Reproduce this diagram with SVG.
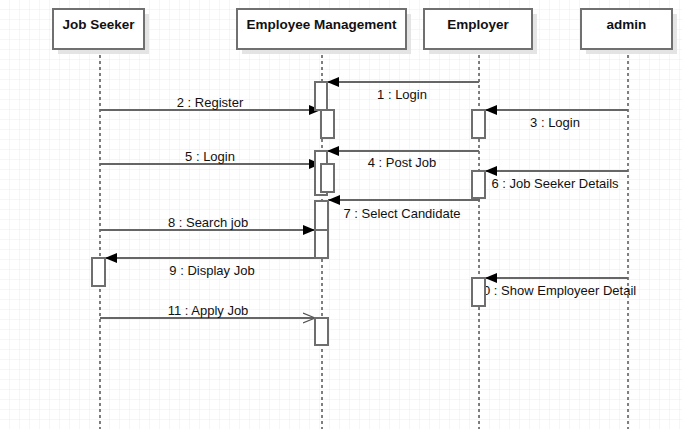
<svg xmlns="http://www.w3.org/2000/svg" width="682" height="429" viewBox="0 0 682 429">
<defs>
<pattern id="grid" width="10" height="10" patternUnits="userSpaceOnUse">
<path d="M10 0V10M0 10H10" fill="none" stroke="#ececec" stroke-width="1"/>
</pattern>
<marker id="fa" markerWidth="12" markerHeight="10" refX="12" refY="5" orient="auto" markerUnits="userSpaceOnUse">
<path d="M0 0L12 5L0 10Z" fill="#000"/>
</marker>
<marker id="oa" markerWidth="13" markerHeight="12" refX="12" refY="6" orient="auto" markerUnits="userSpaceOnUse">
<path d="M0 1L12 6L0 11" fill="none" stroke="#555" stroke-width="1.2"/>
</marker>
<style>
.hd{fill:#fff;stroke:#707070;stroke-width:2}
.sh{fill:#e4e4e4}
.ht{font-family:"Liberation Sans",Arial,sans-serif;font-size:13.5px;font-weight:bold;fill:#111;text-anchor:middle}
.ll{stroke:#000;stroke-width:1;stroke-dasharray:3 3}
.ac{fill:#fff;stroke:#6e6e6e;stroke-width:2}
.m{stroke:#666;stroke-width:2;fill:none}
.lb{font-family:"Liberation Sans",Arial,sans-serif;font-size:13px;fill:#111;text-anchor:middle}
</style>
</defs>
<rect width="682" height="429" fill="#fff"/>
<rect width="682" height="429" fill="url(#grid)"/>

<g id="lifelines">
<line class="ll" x1="100" y1="49" x2="100" y2="429"/>
<line class="ll" x1="322" y1="49" x2="322" y2="429"/>
<line class="ll" x1="479" y1="49" x2="479" y2="429"/>
<line class="ll" x1="628" y1="49" x2="628" y2="429"/>
</g>

<g id="job-seeker">
<rect class="sh" x="58" y="14" width="91" height="40"/>
<rect class="hd" x="53" y="9" width="91" height="40"/>
<text class="ht" x="98.5" y="29">Job Seeker</text>
</g>
<g id="employee-management">
<rect class="sh" x="242" y="14" width="169" height="40"/>
<rect class="hd" x="237" y="9" width="169" height="40"/>
<text class="ht" x="321.5" y="29">Employee Management</text>
</g>
<g id="employer">
<rect class="sh" x="429" y="14" width="108" height="40"/>
<rect class="hd" x="424" y="9" width="108" height="40"/>
<text class="ht" x="478" y="29">Employer</text>
</g>
<g id="admin">
<rect class="sh" x="586" y="14" width="91" height="40"/>
<rect class="hd" x="581" y="9" width="91" height="40"/>
<text class="ht" x="626.5" y="29">admin</text>
</g>

<g id="connectors">
<line class="m" x1="479" y1="82" x2="327" y2="82" marker-end="url(#fa)"/>
<line class="m" x1="100" y1="110" x2="321" y2="110" marker-end="url(#fa)"/>
<line class="m" x1="628" y1="110" x2="485" y2="110" marker-end="url(#fa)"/>
<line class="m" x1="479" y1="151" x2="327" y2="151" marker-end="url(#fa)"/>
<line class="m" x1="100" y1="164" x2="321" y2="164" marker-end="url(#fa)"/>
<line class="m" x1="628" y1="171" x2="485" y2="171" marker-end="url(#fa)"/>
<line class="m" x1="480" y1="200" x2="328" y2="200" marker-end="url(#fa)"/>
<line class="m" x1="100" y1="230" x2="315" y2="230" marker-end="url(#fa)"/>
<line class="m" x1="322" y1="258" x2="105" y2="258" marker-end="url(#fa)"/>
<line class="m" x1="628" y1="278" x2="485" y2="278" marker-end="url(#fa)"/>
<line class="m" x1="100" y1="318" x2="315" y2="318" marker-end="url(#oa)"/>
</g>

<g id="labels">
<text class="lb" x="402" y="99">1 : Login</text>
<text class="lb" x="210" y="107">2 : Register</text>
<text class="lb" x="555" y="127">3 : Login</text>
<text class="lb" x="402" y="167">4 : Post Job</text>
<text class="lb" x="210" y="161">5 : Login</text>
<text class="lb" x="555" y="188">6 : Job Seeker Details</text>
<text class="lb" x="402" y="218">7 : Select Candidate</text>
<text class="lb" x="208" y="227">8 : Search job</text>
<text class="lb" x="212" y="275">9 : Display Job</text>
<text class="lb" x="556" y="295">10 : Show Employeer Detail</text>
<text class="lb" x="208" y="315">11 : Apply Job</text>
</g>

<g id="activations">
<rect class="ac" x="315" y="82" width="12" height="28"/>
<rect class="ac" x="321" y="110" width="13" height="28"/>
<rect class="ac" x="315" y="151" width="12" height="44"/>
<rect class="ac" x="321" y="164" width="13" height="28"/>
<rect class="ac" x="315" y="201" width="13" height="29"/>
<rect class="ac" x="315" y="230" width="13" height="28"/>
<rect class="ac" x="315" y="318" width="13" height="27"/>
<rect class="ac" x="472" y="110" width="13" height="28"/>
<rect class="ac" x="472" y="171" width="13" height="27"/>
<rect class="ac" x="472" y="278" width="13" height="28"/>
<rect class="ac" x="92" y="258" width="13" height="28"/>
</g>
</svg>
